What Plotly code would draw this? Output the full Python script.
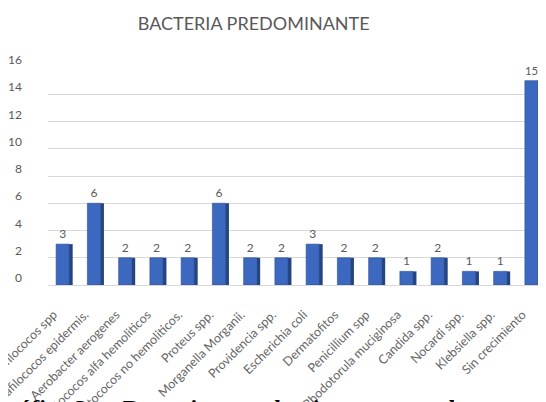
import plotly.graph_objects as go

categories = [
    "Estafilococos spp", "Estafilococos epidermis.", "Aerobacter aerogenes",
    "Estreptococos alfa hemoliticos", "Estreptococos no hemoliticos.", "Proteus spp.",
    "Morganella Morganii.", "Providencia spp.", "Escherichia coli", "Dermatofitos",
    "Penicillium spp", "Rhodotorula muciginosa", "Candida spp.", "Nocardi spp.",
    "Klebsiella spp.", "Sin crecimiento",
]
values = [3, 6, 2, 2, 2, 6, 2, 2, 3, 2, 2, 1, 2, 1, 1, 15]
y_ticks = [0, 2, 4, 6, 8, 10, 12, 14, 16]

title_text = "BACTERIA PREDOMINANTE"
caption_text = "Gráfico 3.     Bacteria    predominante    en    las    muestras"

fig = go.Figure()
# side face (3D look)
fig.add_trace(go.Bar(
    x=categories, y=values, width=0.12, offset=0.17,
    marker=dict(color="#24457f", line=dict(width=0)),
    hoverinfo="skip", showlegend=False,
))
# front face
fig.add_trace(go.Bar(
    x=categories, y=values, width=0.42, offset=-0.24,
    marker=dict(color="#3d68c0", line=dict(color="#2c4f92", width=0.6)),
    text=[str(v) for v in values], textposition="outside",
    textfont=dict(family="Lato", size=12, color="#595959"),
    cliponaxis=False, showlegend=False,
))

fig.update_layout(
    width=546, height=402,
    margin=dict(l=40, r=6, t=59, b=125),
    paper_bgcolor="white", plot_bgcolor="white",
    barmode="overlay",
    title=dict(text=title_text, x=0.45, xanchor="center", y=0.962, yanchor="middle",
               font=dict(family="Lato", size=18, color="#595959")),
    font=dict(family="Lato", color="#595959"),
    xaxis=dict(
        tickangle=-45, tickfont=dict(family="Lato", size=12.5, color="#666666"),
        showgrid=False, showline=False, ticks="", automargin=False,
        ticklabelstandoff=19, ticklabelshift=-10,
    ),
    yaxis=dict(
        range=[0, 16], tickvals=y_ticks, showgrid=True, gridcolor="#d9d9d9",
        gridwidth=1, zeroline=True, zerolinecolor="#d9d9d9", zerolinewidth=1,
        tickfont=dict(family="Lato", size=12, color="#595959"),
        ticks="", automargin=False, ticklabelstandoff=25, ticklabelshift=-7,
    ),
    annotations=[dict(
        text="<b>" + caption_text + "</b>", xref="paper", yref="paper",
        x=-0.12, y=-0.495, xanchor="left", yanchor="top", showarrow=False,
        font=dict(family="Liberation Serif", size=24, color="black"),
    )],
)

fig.write_html("out.html")
